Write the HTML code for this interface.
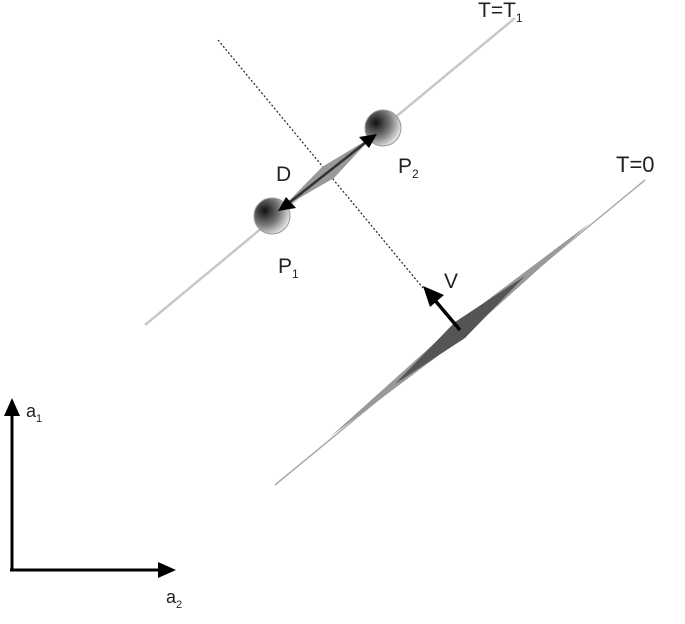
<!DOCTYPE html>
<html><head><style>body{margin:0;background:#fff}svg{display:block}text{font-family:"Liberation Sans",sans-serif;fill:#222}</style></head><body>
<svg width="685" height="624" viewBox="0 0 685 624">
<defs>
<radialGradient id="g" cx="0.3" cy="0.35" r="0.8"><stop offset="0" stop-color="#111"/><stop offset="0.5" stop-color="#777"/><stop offset="1" stop-color="#fff"/></radialGradient>
</defs>
<line x1="145" y1="325" x2="515" y2="18" stroke="#c8c8c8" stroke-width="2.5"/>
<line x1="275" y1="485" x2="645" y2="180" stroke="#aaa" stroke-width="1.5"/>
<polygon points="330,437 457,323 590,223 463,337" fill="#999"/>
<polygon points="395,384 455,322 525,276 465,338" fill="#555"/>
<line x1="218" y1="40" x2="423" y2="288" stroke="#222" stroke-width="1.2" stroke-dasharray="2,2"/>
<line x1="460" y1="330" x2="433" y2="298" stroke="#000" stroke-width="3.5"/>
<polygon points="423,286 444,295 430,307" fill="#000"/>
<circle cx="272" cy="216" r="18" fill="url(#g)" stroke="#999"/>
<circle cx="383" cy="128" r="18" fill="url(#g)" stroke="#999"/>
<polygon points="282,208 322,167 372,137 334,178" fill="#999"/>
<line x1="285" y1="206" x2="370" y2="139" stroke="#333" stroke-width="2.5"/>
<polygon points="278,211 286,197 296,208" fill="#000"/>
<polygon points="377,134 369,148 359,137" fill="#000"/>
<line x1="12" y1="570" x2="12" y2="412" stroke="#000" stroke-width="3"/>
<polygon points="12,398 4,416 20,416" fill="#000"/>
<line x1="10" y1="570" x2="160" y2="570" stroke="#000" stroke-width="3"/>
<polygon points="176,570 158,562 158,578" fill="#000"/>
<text x="478" y="17" font-size="21">T=T<tspan font-size="12" dy="5">1</tspan></text>
<text x="616" y="172" font-size="22">T=0</text>
<text x="276" y="181" font-size="21">D</text>
<text x="398" y="173" font-size="21">P<tspan font-size="12" dy="5">2</tspan></text>
<text x="278" y="273" font-size="21">P<tspan font-size="12" dy="5">1</tspan></text>
<text x="444" y="288" font-size="21">V</text>
<text x="26" y="417" font-size="18">a<tspan font-size="11" dy="5">1</tspan></text>
<text x="166" y="603" font-size="18">a<tspan font-size="11" dy="5">2</tspan></text>
</svg>
</body></html>
